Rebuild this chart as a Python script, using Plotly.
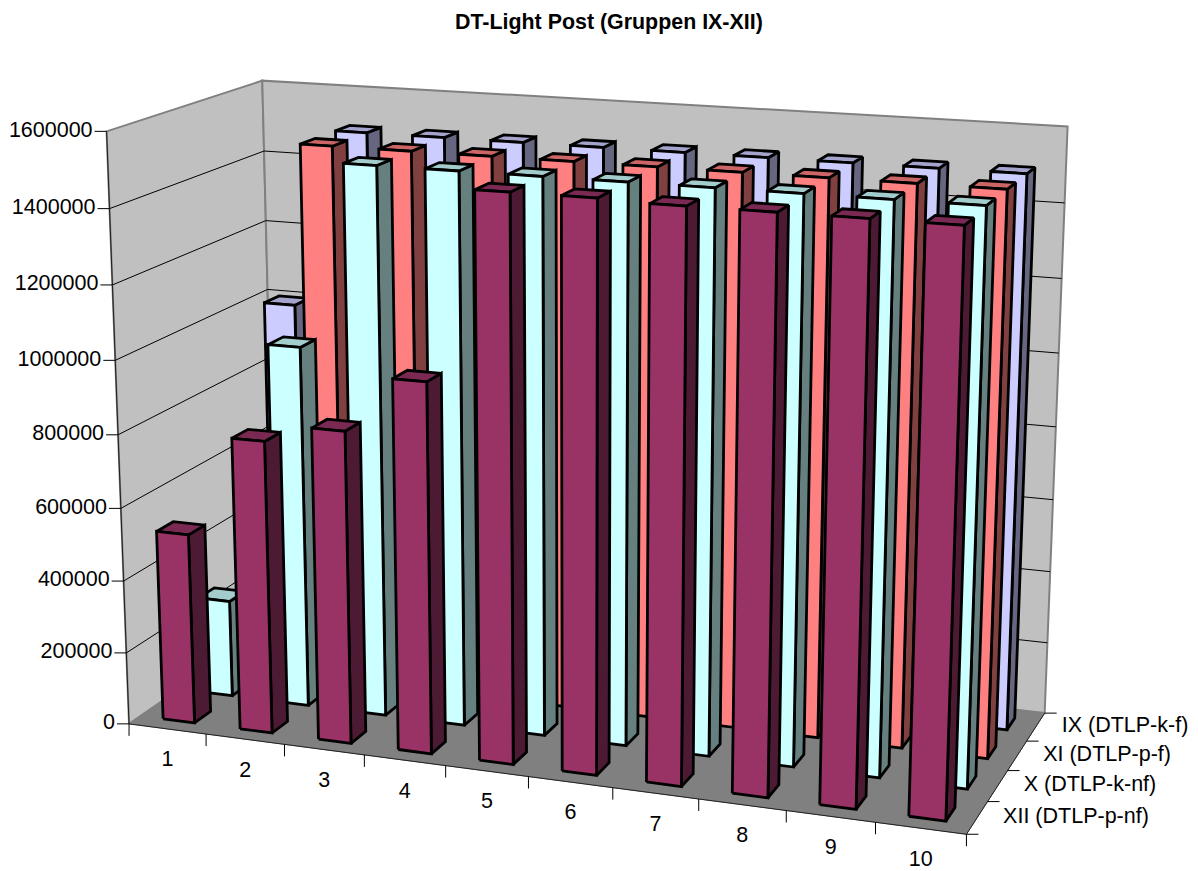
import numpy as np
import plotly.graph_objects as go

# ---------- data ----------
title = "DT-Light Post (Gruppen IX-XII)"
categories = ["1", "2", "3", "4", "5", "6", "7", "8", "9", "10"]
value_ticks = [0, 200000, 400000, 600000, 800000, 1000000, 1200000, 1400000, 1600000]
series_names = ["XII (DTLP-p-nf)", "X (DTLP-k-nf)", "XI (DTLP-p-f)", "IX (DTLP-k-f)"]  # front to back
xii_values = [525000, 801000, 849000, 999000, 1500000, 1500000, 1495000, 1495000, 1495000, 1494000]
x_values = [271000, 1000000, 1500000, 1500000, 1500000, 1500000, 1500000, 1500000, 1500000, 1500000]
xi_values = [200000, 1500000, 1500000, 1500000, 1500000, 1500000, 1500000, 1500000, 1500000, 1500000]
ix_values = [1000000, 1500000, 1500000, 1500000, 1500000, 1500000, 1500000, 1500000, 1500000, 1500000]
series_values = [xii_values, x_values, xi_values, ix_values]

# ---------- style ----------
Z_MAX = 1600000
FONT = "Liberation Sans"
TICK_SIZE = 21.5
front_colors = ["#993366", "#CCFFFF", "#FF8080", "#CCCCFF"]
side_colors = ["#4D1A33", "#668080", "#804040", "#666680"]
top_colors = ["#7A2952", "#A3CCCC", "#CC6666", "#A3A3CC"]
BAR_X = (0.295, 0.705)
BAR_Y = (0.29, 0.71)
PAGE_MARGIN = 8

# ---------- perspective camera calibrated on the frame of the 3-D box ----------
frame_world = [(0,0,0),(1,0,0),(2,0,0),(3,0,0),(10,0,0),(10,1,0),(10,2,0),(10,3,0),(10,4,0),
               (0,0,1),(0,0,.875),(0,0,.75),(0,4,1),(0,4,.875),(0,4,.75),(10,4,1),(10,4,.875),(10,4,.125)]
frame_page = [(129.3,723.3),(206,734),(284.3,744.3),(364.3,756),(965.7,834),(988,801.7),(1008,770.7),
              (1026.7,740.7),(1045,713.3),(106,131.7),(110,208),(112.7,285),(262.3,80.7),(264,151),
              (265.7,220.7),(1068.3,126.7),(1064,202.7),(1046.7,642.7)]
rows = []
rhs = []
for (X, Y, Z), (u, v) in zip(frame_world, frame_page):
    rows.append([X, Y, Z, 1, 0, 0, 0, 0, -u*X, -u*Y, -u*Z])
    rhs.append(u)
    rows.append([0, 0, 0, 0, X, Y, Z, 1, -v*X, -v*Y, -v*Z])
    rhs.append(v)
p = np.linalg.lstsq(np.array(rows, float), np.array(rhs, float), rcond=None)[0]
P = np.append(p, 1.0).reshape(3, 4)


def project(X, Y, value):
    h = P @ np.array([X, Y, value / Z_MAX, 1.0])
    return h[0] / h[2], h[1] / h[2]


def poly(points, fill, line, width, name=None):
    xy = [project(*q) for q in points]
    xy.append(xy[0])
    return go.Scatter(x=[a for a, _ in xy], y=[b for _, b in xy], mode="lines", fill="toself",
                      fillcolor=fill, line=dict(color=line, width=width), hoverinfo="skip" if name is None else "text",
                      text=name, showlegend=False)


def segs(pairs, color, width):
    xs, ys = [], []
    for a, b in pairs:
        pa, pb = project(*a), project(*b)
        xs += [pa[0], pb[0], None]
        ys += [pa[1], pb[1], None]
    return go.Scatter(x=xs, y=ys, mode="lines", line=dict(color=color, width=width), hoverinfo="skip", showlegend=False)


traces = []
# walls and floor
traces.append(poly([(0,0,0),(0,4,0),(0,4,Z_MAX),(0,0,Z_MAX)], "#C0C0C0", "#808080", 2))
traces.append(poly([(0,4,0),(10,4,0),(10,4,Z_MAX),(0,4,Z_MAX)], "#C0C0C0", "#808080", 2))
traces.append(poly([(0,0,0),(10,0,0),(10,4,0),(0,4,0)], "#808080", "#808080", 1))
# gridlines
grid = []
for v in value_ticks[1:-1]:
    grid += [((0,0,v),(0,4,v)), ((0,4,v),(10,4,v))]
traces.append(segs(grid, "#000000", 1))
# axis edges
traces.append(segs([((0,0,0),(0,0,Z_MAX)), ((0,0,0),(10,0,0)), ((10,0,0),(10,4,0))], "#202020", 1))

# tick marks in page space
tx, ty = [], []
for v in value_ticks:
    a = project(0, 0, v)
    tx += [a[0] - 12, a[0], None]; ty += [a[1], a[1], None]
for i in range(11):
    a = project(i, 0, 0)
    tx += [a[0], a[0], None]; ty += [a[1], a[1] + 12, None]
for j in range(5):
    a = project(10, j, 0)
    tx += [a[0], a[0] + 12, None]; ty += [a[1], a[1], None]
traces.append(go.Scatter(x=tx, y=ty, mode="lines", line=dict(color="#000000", width=1), hoverinfo="skip", showlegend=False))

# bars: back row first, left to right
for s in range(3, -1, -1):
    for c in range(10):
        v = series_values[s][c]
        x0, x1 = c + BAR_X[0], c + BAR_X[1]
        y0, y1 = s + BAR_Y[0], s + BAR_Y[1]
        label = f"{series_names[s]} / {categories[c]}: {v}"
        traces.append(poly([(x1,y0,0),(x1,y1,0),(x1,y1,v),(x1,y0,v)], side_colors[s], "#000000", 2.8))
        traces.append(poly([(x0,y0,v),(x1,y0,v),(x1,y1,v),(x0,y1,v)], top_colors[s], "#000000", 2.8))
        traces.append(poly([(x0,y0,0),(x1,y0,0),(x1,y0,v),(x0,y0,v)], front_colors[s], "#000000", 2.8, label))

# text labels
def text_trace(items, position, size=TICK_SIZE):
    return go.Scatter(x=[i[0] for i in items], y=[i[1] for i in items], text=[i[2] for i in items], mode="text",
                      textposition=position, hoverinfo="skip", showlegend=False,
                      textfont=dict(family=FONT, size=size, color="#000000"))

traces.append(text_trace([(project(0,0,v)[0]-14, project(0,0,v)[1], str(v)) for v in value_ticks], "middle left"))
traces.append(text_trace([(project(i+.5,0,0)[0], project(i+.5,0,0)[1]+32, c) for i, c in enumerate(categories)], "middle center"))
traces.append(text_trace([(project(10,j+.5,0)[0]+26, project(10,j+.5,0)[1], n) for j, n in enumerate(series_names)], "middle right"))

fig = go.Figure(traces)
fig.update_layout(
    width=1198 - PAGE_MARGIN, height=871 - PAGE_MARGIN, margin=dict(l=0, r=0, t=0, b=0, pad=0), autosize=False,
    paper_bgcolor="#FFFFFF", plot_bgcolor="#FFFFFF", showlegend=False,
    xaxis=dict(range=[PAGE_MARGIN, 1198], visible=False, fixedrange=True),
    yaxis=dict(range=[871, PAGE_MARGIN], visible=False, fixedrange=True),
    annotations=[dict(text=f"<b>{title}</b>", x=609, y=22, xref="x", yref="y", showarrow=False,
                      font=dict(family=FONT, size=21.4, color="#000000"))],
)
fig.write_html("out.html")
